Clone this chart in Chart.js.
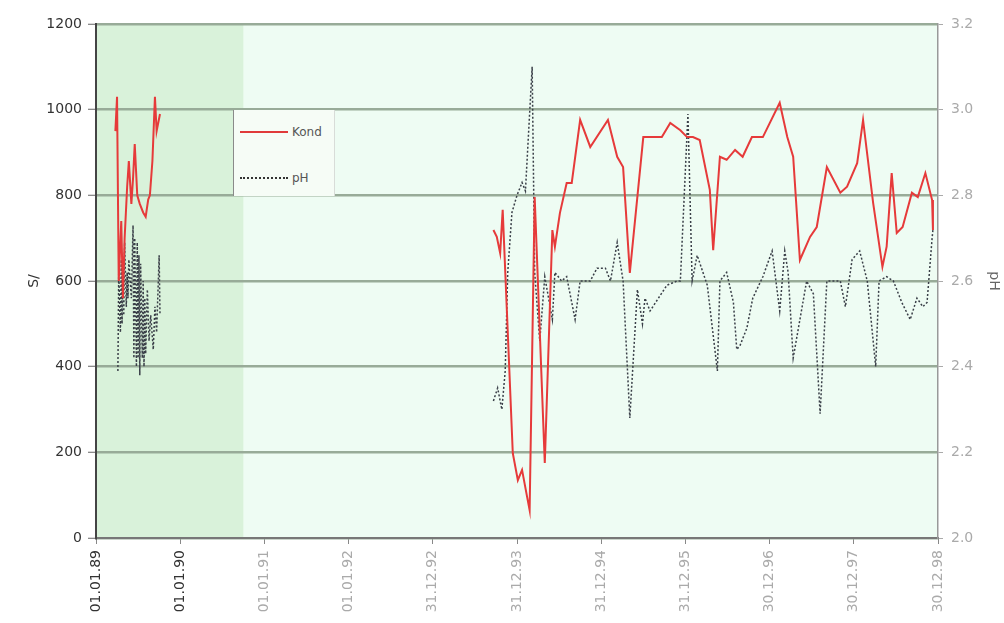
<!DOCTYPE html>
<html>
<head>
<meta charset="utf-8">
<script src="https://cdn.jsdelivr.net/npm/chart.js@4"></script>
<style>
  html, body { margin: 0; padding: 0; background: #fff; }
  #wrap { position: relative; width: 1004px; height: 623px; }
  #legend { position: absolute; left: 233px; top: 110px; width: 102px; height: 86px;
    background: #f6fcf6; border-left: 1px solid #8a8a8a; border-right: 1px solid #d8dcd8;
    font-family: "DejaVu Sans", Arial, sans-serif; font-size: 12px; color: #555; box-sizing: border-box; }
  .li { position: absolute; left: 0; width: 100px; height: 16px; }
  .sw { position: absolute; left: 6px; width: 48px; top: 7px; }
  .tx { position: absolute; left: 58px; top: 0; line-height: 16px; }
</style>
</head>
<body>
<div id="wrap">
  <canvas id="c" width="1004" height="623"></canvas>
  <div id="legend">
    <div class="li" style="top:14px"><div class="sw" style="border-top:2px solid #e03a3a"></div><div class="tx">Kond</div></div>
    <div class="li" style="top:60px"><div class="sw" style="border-top:2px dotted #333"></div><div class="tx">pH</div></div>
  </div>
</div>
<script>
// x positions are years after 01.01.89
const xTickLabels = ["01.01.89","01.01.90","01.01.91","01.01.92","31.12.92","31.12.93","31.12.94","31.12.95","30.12.96","30.12.97","30.12.98"];

const kondX = [0.23,0.25,0.27,0.30,0.32,0.34,0.37,0.39,0.42,0.44,0.46,0.49,0.52,0.56,0.59,0.62,0.64,0.67,0.70,0.72,0.76,
  2.5,
  4.72,4.76,4.80,4.83,4.95,5.01,5.06,5.12,5.15,5.21,5.33,5.42,5.45,5.51,5.59,5.65,5.75,5.87,6.08,6.19,6.26,6.34,6.50,6.62,6.72,6.82,6.94,7.02,7.09,7.17,7.29,7.33,7.41,7.49,7.59,7.68,7.79,7.92,8.12,8.21,8.28,8.36,8.48,8.56,8.68,8.84,8.92,9.04,9.11,9.23,9.34,9.39,9.45,9.51,9.58,9.69,9.76,9.85,9.93,9.94];
const kondY = [950,1030,600,740,560,700,820,880,780,840,920,800,780,760,750,790,800,880,1030,950,990,
  null,
  719,703,665,766,198,135,159,96,65,796,175,719,680,759,829,829,976,913,976,890,866,619,936,936,936,969,952,936,936,929,813,672,890,883,906,890,936,936,1016,936,890,649,703,726,866,806,820,875,976,782,633,680,852,712,726,806,796,852,789,719];

const phX = [0.26,0.27,0.29,0.30,0.31,0.32,0.33,0.34,0.36,0.37,0.38,0.39,0.42,0.44,0.45,0.46,0.48,0.49,0.50,0.51,0.52,0.53,0.55,0.56,0.57,0.58,0.59,0.61,0.63,0.65,0.68,0.70,0.72,0.75,0.76,
  2.5,
  4.72,4.77,4.82,4.86,4.89,4.94,5.00,5.06,5.10,5.18,5.21,5.27,5.33,5.42,5.45,5.53,5.59,5.69,5.75,5.87,5.95,6.05,6.11,6.19,6.26,6.34,6.43,6.49,6.52,6.58,6.68,6.78,6.90,6.94,7.03,7.08,7.14,7.26,7.38,7.41,7.49,7.57,7.61,7.65,7.73,7.80,7.92,8.03,8.12,8.18,8.22,8.28,8.36,8.44,8.52,8.60,8.68,8.75,8.84,8.90,8.98,9.07,9.16,9.23,9.26,9.30,9.39,9.47,9.57,9.67,9.75,9.82,9.87,9.93,9.94];
const phY = [2.39,2.62,2.48,2.65,2.50,2.64,2.52,2.69,2.54,2.62,2.56,2.65,2.56,2.73,2.42,2.70,2.40,2.69,2.42,2.66,2.38,2.64,2.42,2.60,2.40,2.56,2.43,2.58,2.46,2.52,2.44,2.54,2.48,2.66,2.52,
  null,
  2.32,2.35,2.30,2.39,2.62,2.76,2.80,2.83,2.81,3.10,2.62,2.46,2.61,2.51,2.62,2.60,2.61,2.51,2.60,2.60,2.63,2.63,2.60,2.69,2.60,2.28,2.58,2.50,2.56,2.53,2.56,2.59,2.60,2.60,2.99,2.60,2.66,2.59,2.39,2.60,2.62,2.55,2.44,2.45,2.49,2.56,2.61,2.67,2.53,2.67,2.62,2.42,2.51,2.60,2.57,2.29,2.60,2.60,2.60,2.54,2.65,2.67,2.60,2.46,2.40,2.60,2.61,2.60,2.55,2.51,2.56,2.54,2.55,2.70,2.72];

const bandEnd = 1.75; // darker green shading up to here (years)

const bgPlugin = {
  id: 'bg',
  beforeDraw(chart) {
    const { ctx, chartArea: a, scales } = chart;
    ctx.save();
    ctx.fillStyle = '#eefcf3';
    ctx.fillRect(a.left, a.top, a.right - a.left, a.bottom - a.top);
    const xe = scales.x.getPixelForValue(bandEnd);
    ctx.fillStyle = '#d9f2da';
    ctx.fillRect(a.left, a.top, xe - a.left, a.bottom - a.top);
    ctx.restore();
  }
};

const fam = '"DejaVu Sans", Arial, sans-serif';
const font = { family: fam, size: 14 };

new Chart(document.getElementById('c'), {
  type: 'line',
  data: {
    datasets: [
      { label: 'Kond', data: kondX.map((x, i) => ({ x, y: kondY[i] })), yAxisID: 'y',
        borderColor: '#e63a3a', borderWidth: 2, pointRadius: 0, tension: 0, spanGaps: false },
      { label: 'pH', data: phX.map((x, i) => ({ x, y: phY[i] })), yAxisID: 'y2',
        borderColor: '#3a3f48', borderWidth: 1.5, borderDash: [2, 2], pointRadius: 0, tension: 0, spanGaps: false }
    ]
  },
  options: {
    responsive: false,
    animation: false,
    layout: { padding: { top: 24, left: 0, right: 0, bottom: 0 } },
    plugins: { legend: { display: false }, tooltip: { enabled: false } },
    scales: {
      x: {
        type: 'linear', min: 0, max: 10,
        afterFit(s) { s.height = 85; },
        afterBuildTicks(s) { s.ticks = xTickLabels.map((_, i) => ({ value: i })); },
        ticks: {
          font: { family: fam, size: 14 },
          color: (c) => c.index < 2 ? '#333' : '#aaa',
          minRotation: 90, maxRotation: 90, autoSkip: false, padding: 6,
          callback: (v, i) => xTickLabels[i]
        },
        grid: { drawOnChartArea: false, tickLength: 6, color: '#888', lineWidth: 1 },
        border: { color: '#777', width: 2 }
      },
      y: {
        position: 'left', min: 0, max: 1200,
        afterFit(s) { s.width = 96; },
        ticks: { stepSize: 200, font, color: '#333', padding: 6, callback: (v) => String(v) },
        grid: { color: '#98ab98', lineWidth: 2.5, tickLength: 8, tickColor: '#666', tickWidth: 1 },
        border: { color: '#444', width: 2 },
        title: { display: true, text: 'S/', font, color: '#333', padding: { top: 26, bottom: 0 } }
      },
      y2: {
        position: 'right', min: 2.0, max: 3.2,
        afterFit(s) { s.width = 66; },
        ticks: { stepSize: 0.2, font, color: '#aaa', padding: 8, callback: (v) => v.toFixed(1) },
        grid: { drawOnChartArea: false, tickLength: 5, color: '#aaa' },
        border: { color: '#999', width: 1.5 },
        title: { display: true, text: 'pH', font, color: '#666', padding: { top: 2, bottom: 0 } }
      }
    }
  },
  plugins: [bgPlugin]
});
</script>
</body>
</html>
